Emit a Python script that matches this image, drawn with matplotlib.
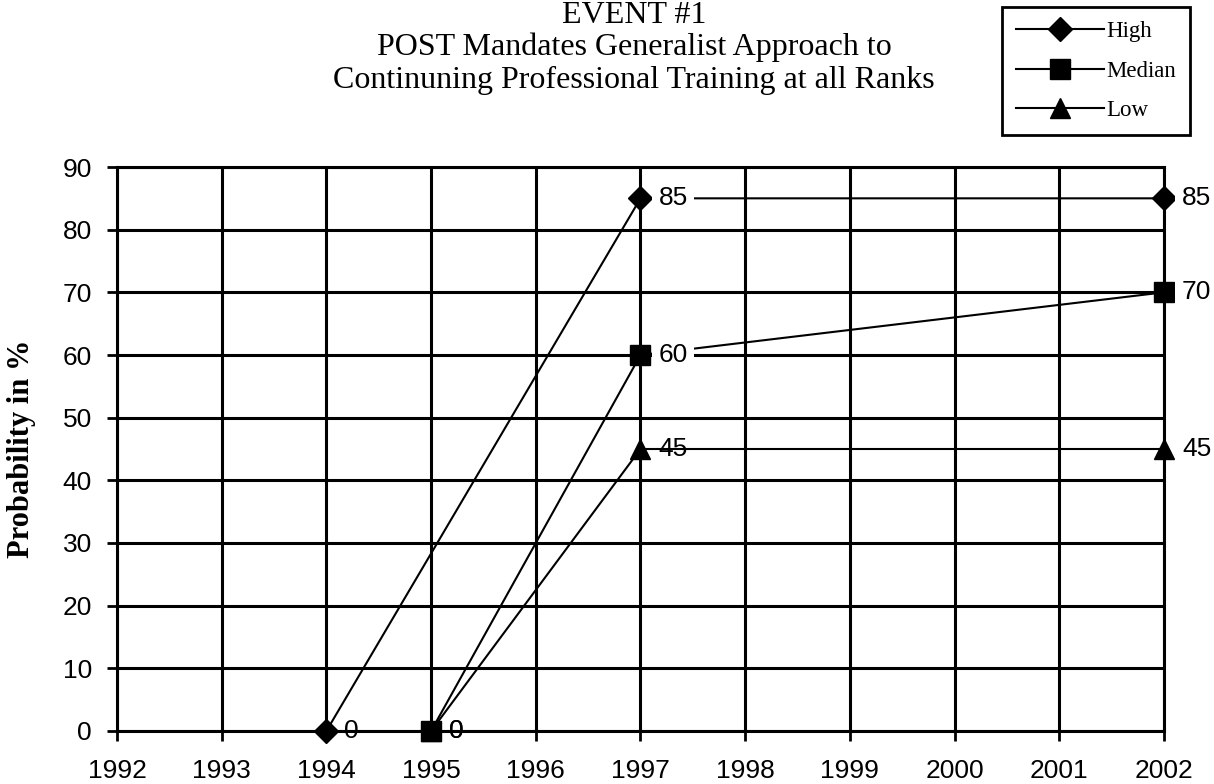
import matplotlib.pyplot as plt

# data
years = [1992, 1993, 1994, 1995, 1996, 1997, 1998, 1999, 2000, 2001, 2002]
high_x = [1994, 1997, 2002]
high_y = [0, 85, 85]
median_x = [1995, 1997, 2002]
median_y = [0, 60, 70]
low_x = [1995, 1997, 2002]
low_y = [0, 45, 45]
y_ticks = [0, 10, 20, 30, 40, 50, 60, 70, 80, 90]

title_lines = ["EVENT #1",
               "POST Mandates Generalist Approach to",
               "Continuning Professional Training at all Ranks"]

fig = plt.figure(figsize=(12.14, 7.84), dpi=100)
ax = fig.add_axes([117/1214, 1-731/784, (1164-117)/1214, (731-167)/784])

#grid + frame
ax.set_xlim(1992, 2002)
ax.set_ylim(0, 90)
ax.set_xticks(years)
ax.set_yticks(y_ticks)
ax.grid(True, color='black', linewidth=2.2)
ax.set_axisbelow(True)
for s in ax.spines.values():
    s.set_linewidth(2.2)
    s.set_color('black')
ax.tick_params(axis='both', direction='out', length=7, width=2, labelsize=19)
ax.tick_params(axis='y', pad=11)
ax.tick_params(axis='x', pad=13)
for lbl in ax.get_xticklabels() + ax.get_yticklabels():
    lbl.set_fontfamily('Liberation Sans')

#series
ax.plot(high_x, high_y, color='black', lw=1.5, marker='D', ms=12, mfc='black', label='High', clip_on=False, zorder=3)
ax.plot(median_x, median_y, color='black', lw=1.5, marker='s', ms=15, mfc='black', label='Median', clip_on=False, zorder=3)
ax.plot(low_x, low_y, color='black', lw=1.5, marker='^', ms=15, mfc='black', label='Low', clip_on=False, zorder=3)

#data labels
def labels(xs, ys, box):
    for x, y in zip(xs, ys):
        kw = dict(boxstyle='square,pad=0.25', fc='white', ec='none') if (box and y > 0) else None
        ax.annotate(str(y), (x, y), xytext=(13, 0), textcoords='offset points',
                    va='center', ha='left', fontsize=19, family='Liberation Sans',
                    bbox=kw, annotation_clip=False, zorder=4)

labels(high_x, high_y, True)
labels(median_x, median_y, True)
labels(low_x, low_y, False)

fig.text(22/1214, 1-449/784, 'Probability in %', rotation=90, ha='center', va='center',
         fontsize=22, fontweight='bold', family='Liberation Serif')

for yy, line in zip([23, 55, 88], title_lines):
    fig.text(634/1214, 1-yy/784, line, ha='center', va='baseline', fontsize=23,
             family='Liberation Serif')

leg = fig.legend(loc='upper left', bbox_to_anchor=(1002/1214, 1-7/784), borderaxespad=0,
                 prop={'family': 'Liberation Serif', 'size': 16.5}, handlelength=3.85,
                 handletextpad=0.1, labelspacing=0.82, fancybox=False, framealpha=1,
                 borderpad=0.6)
leg.get_frame().set_edgecolor('black')
leg.get_frame().set_linewidth(2)

fig.savefig('out.png', dpi=100)
